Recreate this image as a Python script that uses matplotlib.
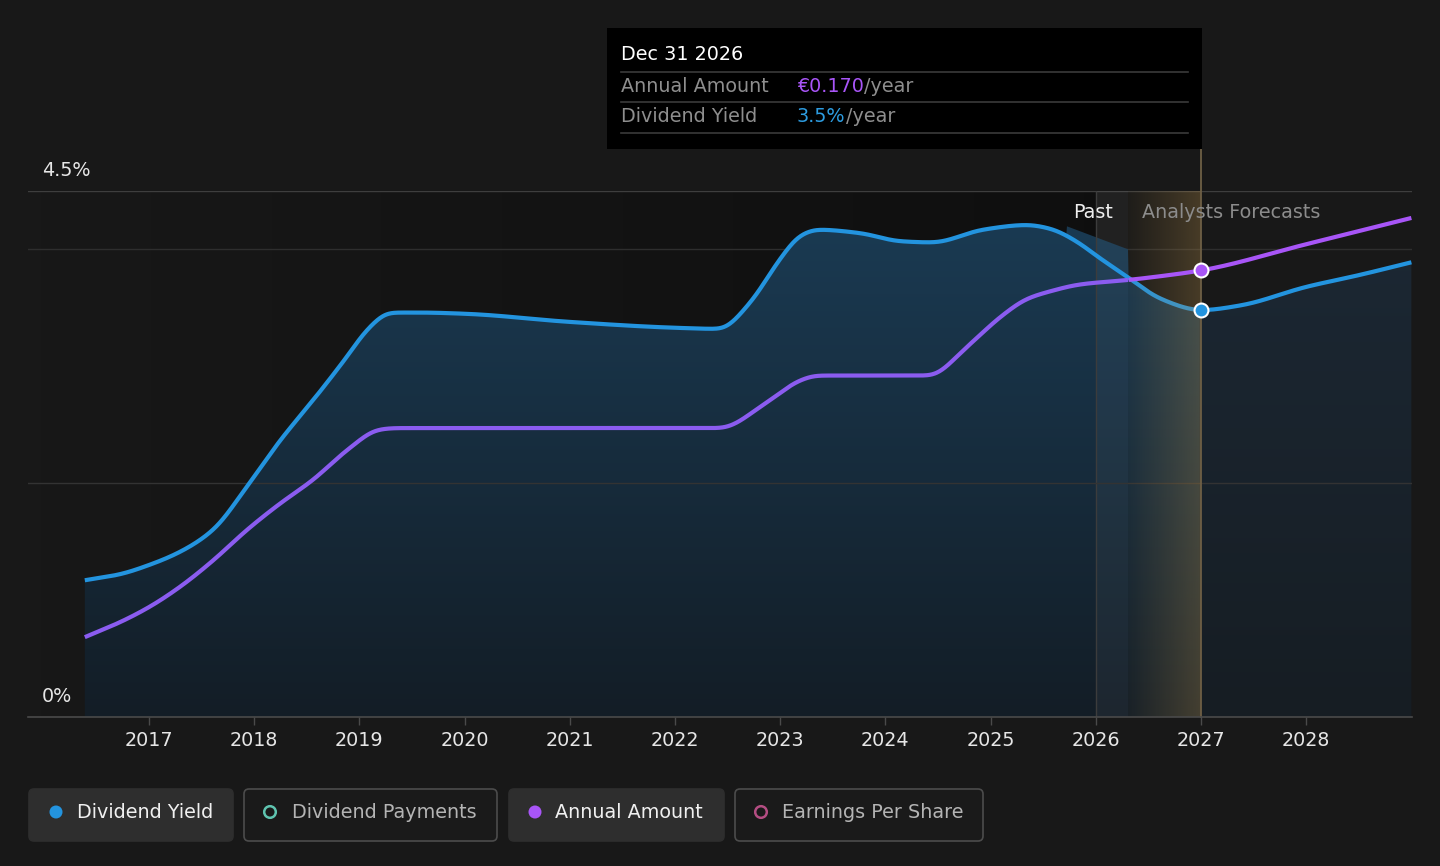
import numpy as np
import matplotlib
matplotlib.use("Agg")
import matplotlib.pyplot as plt
from matplotlib.patches import Rectangle, FancyBboxPatch, Circle

plt.rcParams['font.family'] = ['DejaVu Sans']

# ---------------- data ----------------
yield_years = [2016.39, 2016.72, 2017.0, 2017.29, 2017.61, 2017.93, 2018.25, 2018.56, 2018.88,
               2019.07, 2019.29, 2019.58, 2020.0, 2021.0, 2022.0, 2022.43, 2022.71, 2023.0,
               2023.19, 2023.35, 2023.76, 2024.14, 2024.45, 2024.93, 2025.35, 2025.56, 2025.85,
               2026.0, 2026.31, 2026.61, 2027.0, 2027.37, 2028.0, 2028.5, 2029.0]
yield_pct = [1.17, 1.22, 1.30, 1.41, 1.60, 1.97, 2.37, 2.71, 3.08,
             3.31, 3.46, 3.46, 3.45, 3.38, 3.33, 3.32, 3.54, 3.92,
             4.12, 4.17, 4.14, 4.07, 4.06, 4.17, 4.21, 4.18, 4.05,
             3.95, 3.76, 3.58, 3.48, 3.52, 3.68, 3.78, 3.89]

amount_years = [2016.39, 2016.72, 2017.0, 2017.29, 2017.61, 2017.93, 2018.25, 2018.56, 2018.88,
                2019.19, 2019.35, 2022.43, 2022.87, 2023.19, 2023.35, 2024.42, 2024.78, 2025.09,
                2025.35, 2025.56, 2025.85, 2026.31, 2026.61, 2027.0, 2028.0, 2029.0]
amount_eur = [0.0304, 0.0360, 0.0418, 0.0494, 0.0596, 0.0712, 0.0814, 0.0903, 0.1015,
              0.1095, 0.1100, 0.1100, 0.1197, 0.1282, 0.1300, 0.1300, 0.1411, 0.1522,
              0.1593, 0.1620, 0.1647, 0.1664, 0.1678, 0.1700, 0.1800, 0.1900]

year_ticks = list(range(2017, 2029))
y_labels = ["0%", "4.5%"]
today = 2026.31
hover_year = 2027.0
tooltip_date = "Dec 31 2026"
tooltip_amount = "€0.170"
tooltip_yield = "3.5%"
legend_items = ["Dividend Yield", "Dividend Payments", "Annual Amount", "Earnings Per Share"]

# ---------------- helpers ----------------
def pchip(x, y, xn):
    x = np.asarray(x, float); y = np.asarray(y, float)
    h = np.diff(x); d = np.diff(y) / h
    m = np.zeros_like(y)
    m[0] = d[0]; m[-1] = d[-1]
    for k in range(1, len(x) - 1):
        if d[k - 1] * d[k] > 0:
            w1 = 2 * h[k] + h[k - 1]; w2 = h[k] + 2 * h[k - 1]
            m[k] = (w1 + w2) / (w1 / d[k - 1] + w2 / d[k])
        else:
            m[k] = 0.0
    idx = np.clip(np.searchsorted(x, xn) - 1, 0, len(x) - 2)
    t = (xn - x[idx]) / h[idx]
    h00 = 2 * t**3 - 3 * t**2 + 1; h10 = t**3 - 2 * t**2 + t
    h01 = -2 * t**3 + 3 * t**2; h11 = t**3 - t**2
    return h00 * y[idx] + h10 * h[idx] * m[idx] + h01 * y[idx + 1] + h11 * h[idx] * m[idx + 1]


def smooth_curve(x, y, n=2000, sigma=0.06):
    xn = np.linspace(x[0], x[-1], n)
    yn = pchip(x, y, xn)
    dx = xn[1] - xn[0]
    half = int(4 * sigma / dx)
    k = np.exp(-0.5 * (np.arange(-half, half + 1) * dx / sigma) ** 2)
    k /= k.sum()
    # linear extrapolation padding to keep the ends straight
    sl0 = (yn[1] - yn[0]); sl1 = (yn[-1] - yn[-2])
    pad0 = yn[0] - sl0 * np.arange(half, 0, -1)
    pad1 = yn[-1] + sl1 * np.arange(1, half + 1)
    ys = np.convolve(np.concatenate([pad0, yn, pad1]), k, mode='valid')
    return xn, ys


BG = '#181818'
BLUE = '#2394df'
PURPLE_PAST = '#8b5cf0'
PURPLE_FC = '#a855f7'
FS = 13.8

W, H = 1440, 866
fig = plt.figure(figsize=(W / 100, H / 100), dpi=100, facecolor=BG)

x0, x1 = 2015.85, 2029.006
ax = fig.add_axes([28 / W, 149 / H, 1384 / W, 526 / H])
ax.set_facecolor(BG)
ax.set_xlim(x0, x1)
ax.set_ylim(0, 4.5)
for s in ax.spines.values():
    s.set_visible(False)

# secondary scale for the annual amount (€)
scale = float(amount_eur[23]) / 3.82
ax2 = ax.twinx()
ax2.set_ylim(0, 4.5 * scale)
ax2.axis('off')

# past darkening gradient
grad = np.zeros((2, 256, 4))
grad[..., 3] = np.linspace(0, 0.38, 256)[None, :]
ax.imshow(grad, extent=[x0, 2026.0, 0, 4.5], aspect='auto', zorder=0.2, interpolation='bilinear')

# gridlines
ax.axhline(4.5, color='#3e3e3e', lw=1, zorder=0.5)
ax.axhline(4.0, color='#2e2e2e', lw=1, zorder=0.5)
ax.axhline(2.0, color='#333333', lw=1, zorder=3.5)
ax.axhline(0.0, color='#4a4a4a', lw=1.2, zorder=5, clip_on=False)

# curves
xs, ys = smooth_curve(yield_years, yield_pct)
xa, ya = smooth_curve(amount_years, amount_eur)

# fill under yield (with shadow extension near today)
top = ys.copy()
m = (xs >= 2025.72) & (xs <= today)
line = 4.2 + (xs - 2025.72) / (today - 2025.72) * (4.0 - 4.2)
top[m] = np.maximum(ys[m], line[m])
poly = ax.fill_between(xs, 0, top, facecolor='none', edgecolor='none', zorder=1)

nx, ny = 600, 300
gx = np.linspace(x0, x1, nx)
gy = np.linspace(4.5, 0, ny)
tfrac = (gy / 4.2).clip(0, 1)[:, None]
past_top = np.array([26, 58, 82]) / 255; past_bot = np.array([19, 29, 38]) / 255
fc_top = np.array([28, 40, 52]) / 255; fc_bot = np.array([22, 29, 35]) / 255
pastc = past_bot[None, None, :] + (past_top - past_bot)[None, None, :] * tfrac[..., None]
fcc = fc_bot[None, None, :] + (fc_top - fc_bot)[None, None, :] * tfrac[..., None]
is_fc = (gx >= hover_year)[None, :, None]
img = np.where(is_fc, np.broadcast_to(fcc, (ny, nx, 3)), np.broadcast_to(pastc, (ny, nx, 3)))
im = ax.imshow(img, extent=[x0, x1, 0, 4.5], aspect='auto', zorder=1, interpolation='bilinear')
im.set_clip_path(poly.get_paths()[0], transform=ax.transData)

# light strip 2026 -> today
ax.axvspan(2026.0, today, color='white', alpha=0.045, lw=0, zorder=2)
ax.axvline(2026.0, color='#3c3c3c', lw=1, zorder=2.1)

# lines
ax.plot(xs, ys, color=BLUE, lw=3, zorder=4, solid_capstyle='butt')
mp = xa <= today
ax2.plot(xa[mp], ya[mp], color=PURPLE_PAST, lw=3, zorder=4, solid_capstyle='butt')
ax2.plot(xa[~mp], ya[~mp], color=PURPLE_FC, lw=3, zorder=4, solid_capstyle='butt')

# hover band (today -> hovered point), drawn over the lines
band = np.zeros((2, 256, 4))
band[..., 0] = 184 / 255; band[..., 1] = 144 / 255; band[..., 2] = 75 / 255
band[..., 3] = np.linspace(0.04, 0.30, 256)[None, :]
ax.imshow(band, extent=[today, hover_year, 0, 4.5], aspect='auto', zorder=4.5, interpolation='bilinear')
ax.set_xlim(x0, x1); ax.set_ylim(0, 4.5)

ax.plot([hover_year, hover_year], [0, 4.5 + 42 / 116.9], color='#6e5f45', lw=1.3,
        zorder=4.6, clip_on=False)

# markers
hy = float(np.interp(hover_year, xs, ys))
ax.plot([hover_year], [hy], 'o', ms=10, mfc=BLUE, mec='white', mew=1.5, zorder=6)
ha = float(np.interp(hover_year, xa, ya))
ax2.plot([hover_year], [ha], 'o', ms=10, mfc=PURPLE_FC, mec='white', mew=1.5, zorder=6)
ax2.set_ylim(0, 4.5 * scale)

# x ticks
ax.set_xticks(year_ticks)
ax.set_xticklabels([str(y) for y in year_ticks])
ax.tick_params(axis='x', colors='#4a4a4a', length=6, width=1, pad=4, labelcolor='#e6e6e6',
               labelsize=FS)
ax.set_yticks([])

# ---------------- overlay (pixel coords) ----------------
ov = fig.add_axes([0, 0, 1, 1], zorder=10)
ov.set_xlim(0, W); ov.set_ylim(H, 0)
ov.axis('off')
ov.patch.set_alpha(0)

ov.text(42, 171, y_labels[1], color='#e6e6e6', fontsize=FS, va='center', ha='left')
ov.text(42, 697, y_labels[0], color='#e6e6e6', fontsize=FS, va='center', ha='left')

ov.text(1113, 213, "Past", color='#eeeeee', fontsize=FS, va='center', ha='right')
ov.text(1142, 213, "Analysts Forecasts", color='#8c8c8c', fontsize=FS, va='center', ha='left')

# tooltip
ov.add_patch(Rectangle((607, 28), 595, 121, facecolor='black', edgecolor='none', zorder=1))
for yy in (72, 102, 133):
    ov.plot([621, 1188], [yy, yy], color='#3a3a3a', lw=1.2, zorder=2)
ov.text(621, 55, tooltip_date, color='white', fontsize=FS, va='center', ha='left', zorder=3)
ov.text(621, 87, "Annual Amount", color='#8e8e8e', fontsize=FS, va='center', ha='left', zorder=3)
ov.text(621, 117, "Dividend Yield", color='#8e8e8e', fontsize=FS, va='center', ha='left', zorder=3)
ta = ov.text(797, 87, tooltip_amount, color='#a855f7', fontsize=FS, va='center', ha='left', zorder=3)
ty = ov.text(797, 117, tooltip_yield, color='#2d9ce0', fontsize=FS, va='center', ha='left', zorder=3)
fig.canvas.draw()
r = fig.canvas.get_renderer()
for t, yy in ((ta, 87), (ty, 117)):
    bb = t.get_window_extent(r)
    xe = bb.x1 * W / fig.bbox.width
    ov.text(xe, yy, "/year", color='#8e8e8e', fontsize=FS, va='center', ha='left', zorder=3)

# legend
boxes = [(28, 234, True), (243, 498, False), (508, 725, True), (734, 984, False)]
marker_x = [56, 270, 535, 761]
text_x = [77, 292, 555, 782]
mcolors = [BLUE, '#5fc4b0', PURPLE_FC, '#b34d82']
filled = [True, False, True, False]
for (bx0, bx1, active), mx, tx, mc, fl, lab in zip(boxes, marker_x, text_x, mcolors, filled, legend_items):
    ov.add_patch(FancyBboxPatch((bx0 + 1, 789), bx1 - bx0 - 2, 52,
                                boxstyle="round,pad=0,rounding_size=5",
                                facecolor='#2e2e2e' if active else '#1a1a1a',
                                edgecolor='#2e2e2e' if active else '#4c4c4c', lw=1.2))
    if fl:
        ov.add_patch(Circle((mx, 812), 6.5, facecolor=mc, edgecolor='none'))
    else:
        ov.add_patch(Circle((mx, 812), 5.8, facecolor='none', edgecolor=mc, lw=1.8))
    ov.text(tx, 812, lab, color='#f0f0f0' if active else '#b4b4b4', fontsize=FS,
            va='center', ha='left')

fig.savefig('out.png', dpi=100, facecolor=BG)
